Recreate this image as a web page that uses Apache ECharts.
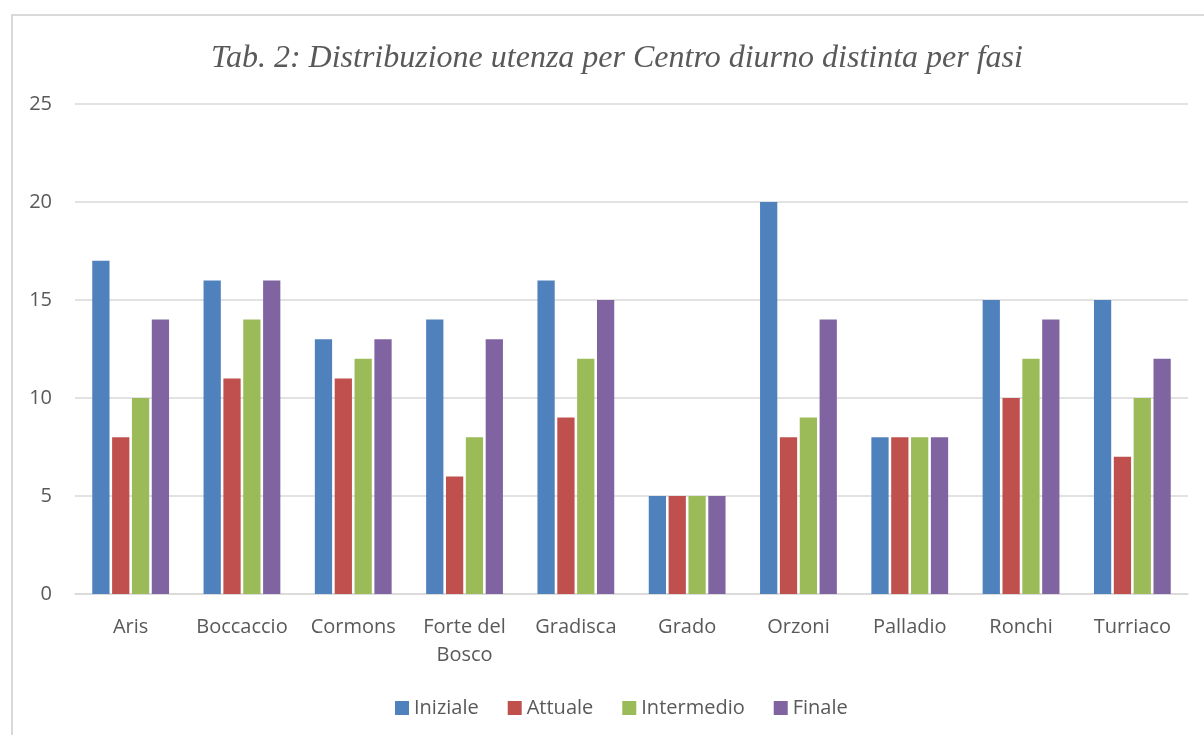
<!DOCTYPE html>
<html>
<head>
<meta charset="utf-8">
<script src="https://cdn.jsdelivr.net/npm/echarts@6/dist/echarts.min.js"></script>
<style>
html,body{margin:0;padding:0;background:#fff;}
#main{width:1204px;height:735px;}
</style>
</head>
<body>
<div id="main"></div>
<script>
var categories = ['Aris', 'Boccaccio', 'Cormons', 'Forte del\nBosco', 'Gradisca', 'Grado', 'Orzoni', 'Palladio', 'Ronchi', 'Turriaco'];
var iniziale = [17, 16, 13, 14, 16, 5, 20, 8, 15, 15];
var attuale = [8, 11, 11, 6, 9, 5, 8, 8, 10, 7];
var intermedio = [10, 14, 12, 8, 12, 5, 9, 8, 12, 10];
var finale = [14, 16, 13, 13, 15, 5, 14, 8, 14, 12];

var myChart = echarts.init(document.getElementById('main'));

function bar(name, data, color){
    return {
        name: name,
        type: 'bar',
        data: data,
        barGap: '15%',
        barCategoryGap: '31%',
        itemStyle: { color: color },
        animation: false
    };
}

myChart.setOption({
    graphic: [{
        type: 'rect',
        shape: { x: 12, y: 15, width: 1300, height: 900 },
        style: { fill: 'none', stroke: '#d9d9d9', lineWidth: 2 },
        silent: true
    }],
    title: {
        text: 'Tab. 2: Distribuzione utenza per Centro diurno distinta per fasi',
        left: 612,
        textAlign: 'center',
        top: 38,
        textStyle: {
            fontFamily: 'Liberation Serif',
            fontStyle: 'italic',
            fontWeight: 'normal',
            fontSize: 32,
            color: '#595959'
        }
    },
    legend: {
        bottom: 12,
        left: 390,
        itemWidth: 14,
        itemHeight: 14,
        itemGap: 29,
        icon: 'rect',
        textStyle: { fontFamily: 'Open Sans', fontSize: 20, color: '#595959' },
        data: ['Iniziale', 'Attuale', 'Intermedio', 'Finale']
    },
    grid: { left: 75, right: 16, top: 104, bottom: 141, containLabel: false },
    xAxis: {
        type: 'category',
        data: categories,
        axisLine: { lineStyle: { color: '#d9d9d9', width: 1.5 } },
        axisTick: { show: false },
        axisLabel: { fontFamily: 'Open Sans', fontSize: 20, color: '#595959', margin: 19, lineHeight: 28, interval: 0 }
    },
    yAxis: {
        type: 'value',
        min: 0,
        max: 25,
        interval: 5,
        axisLine: { show: false },
        axisTick: { show: false },
        splitLine: { lineStyle: { color: '#d9d9d9', width: 1.5 } },
        axisLabel: { fontFamily: 'Open Sans', fontSize: 20, color: '#595959', margin: 23 }
    },
    series: [
        bar('Iniziale', iniziale, '#4f81bd'),
        bar('Attuale', attuale, '#c0504d'),
        bar('Intermedio', intermedio, '#9bbb59'),
        bar('Finale', finale, '#8064a2')
    ]
});
</script>
</body>
</html>
